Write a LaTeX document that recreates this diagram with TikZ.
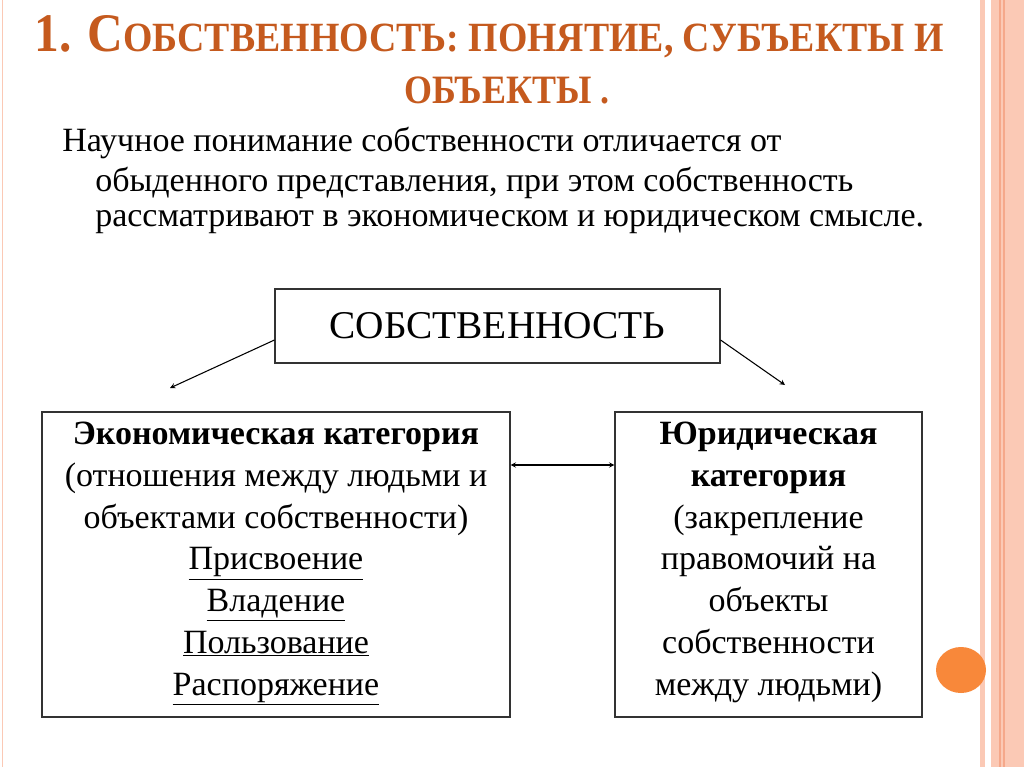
\documentclass[tikz,border=0pt]{standalone}
\usepackage{fontspec}
\setmainfont{Liberation Serif}
\usepackage{graphicx}
\definecolor{ttl}{HTML}{C55A1E}
\definecolor{pinkA}{HTML}{FBC9B5}
\definecolor{pinkB}{HTML}{F5A88A}
\definecolor{orng}{HTML}{F8883A}
\begin{document}
\begin{tikzpicture}[x=0.75pt,y=-0.75pt,
  box/.style={draw=black!80,line width=0.8pt},
  txt/.style={font=\fontsize{25.5}{31.3}\selectfont,align=center,inner sep=0pt},
  para/.style={anchor=west,inner sep=0pt,font=\fontsize{25.5}{30}\selectfont},
  arr/.style={-stealth,line width=0.8pt}]
\useasboundingbox (0,0) rectangle (1024,767);
\fill[white] (0,0) rectangle (1024,767);
% right decoration
\fill[pinkA] (980,0) rectangle (985,767);
\fill[pinkA] (991,0) rectangle (1024,767);
\draw[pinkB,line width=0.8pt] (1000,0) -- (1000,767);
\draw[pinkB,line width=0.8pt] (1004,0) -- (1004,767);
\draw[pinkA,line width=0.6pt] (2,0) -- (2,767);
% title
\node[inner sep=0pt,text=ttl,font=\bfseries] (t1) at (489,37) {\resizebox{682pt}{27pt}{\fontsize{34}{40}\selectfont 1. С{\fontsize{26}{30}\selectfont ОБСТВЕННОСТЬ: ПОНЯТИЕ, СУБЪЕКТЫ И}}};
\node[inner sep=0pt,text=ttl,font=\bfseries] (t2) at (507,90) {\resizebox{154pt}{20pt}{\fontsize{26}{30}\selectfont ОБЪЕКТЫ .}};
% paragraph
\node[para] (p1) at (62,143) {Научное понимание собственности отличается от};
\node[para] (p2) at (95,183) {обыденного представления, при этом собственность};
\node[para] (p3) at (95,222) {рассматривают в экономическом и юридическом смысле.};
% boxes
\node[box,minimum width=445*0.75pt,minimum height=74*0.75pt,font=\fontsize{29.5}{34}\selectfont] (s) at (497.5,326) {СОБСТВЕННОСТЬ};
\node[box,minimum width=468*0.75pt,minimum height=305*0.75pt] (e) at (276,564.5) {};
\node[box,minimum width=307*0.75pt,minimum height=305*0.75pt] (j) at (768.5,564.5) {};
\node[txt,anchor=north] (et) at (276,422) {\textbf{Экономическая категория}\\(отношения между людьми и\\объектами собственности)\\\underline{Присвоение}\\\underline{Владение}\\\underline{Пользование}\\\underline{Распоряжение}};
\node[txt,anchor=north] (jt) at (768.5,422) {\textbf{Юридическая}\\\textbf{категория}\\(закрепление\\правомочий на\\объекты\\собственности\\между людьми)};
% arrows
\coordinate (a1) at (170,388);
\coordinate (a2) at (785,385);
\draw[arr] (s.west|-0,340) -- (a1);
\draw[arr] (s.east|-0,340) -- (a2);
\draw[stealth-stealth,line width=0.8pt] (e.east|-0,465) -- (j.west|-0,465);
% circle
\fill[orng] (961,670) ellipse (25 and 23);
\end{tikzpicture}
\end{document}
